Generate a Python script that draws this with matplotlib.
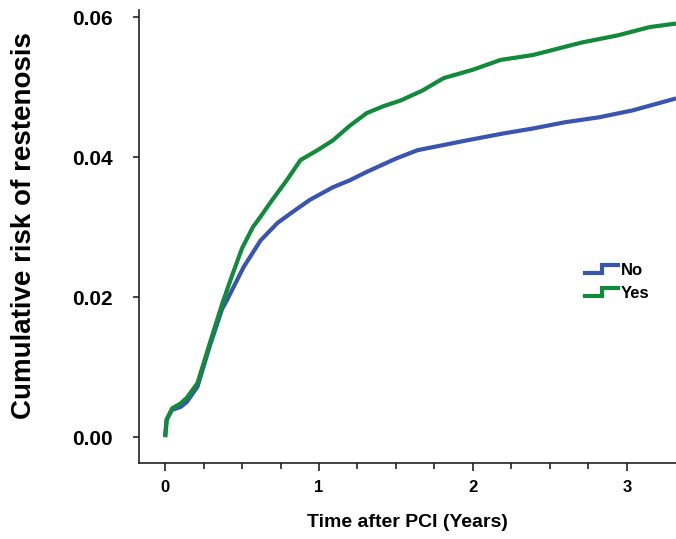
import matplotlib.pyplot as plt
from matplotlib.lines import Line2D
from matplotlib.legend_handler import HandlerBase
from matplotlib.ticker import FixedLocator

plt.rcParams['font.family'] = ['Liberation Sans', 'DejaVu Sans']

# Cumulative risk curves (years, risk)
anos_yes = [0, 0.01, 0.045, 0.1, 0.14, 0.21, 0.29, 0.37, 0.44, 0.5, 0.57, 0.62, 0.68, 0.79, 0.88,
            0.99, 1.09, 1.2, 1.31, 1.42, 1.53, 1.67, 1.81, 2.0, 2.18, 2.39, 2.55, 2.71, 2.94, 3.15, 3.32]
risco_yes = [0, 0.0025, 0.0041, 0.0048, 0.0056, 0.0077, 0.0134, 0.019, 0.0234, 0.027, 0.030, 0.0315,
             0.0334, 0.0367, 0.0396, 0.041, 0.0424, 0.0445, 0.0463, 0.0473, 0.0481, 0.0495, 0.0513,
             0.0525, 0.0539, 0.0546, 0.0555, 0.0564, 0.0574, 0.0586, 0.0591]

anos_no = [0, 0.01, 0.045, 0.1, 0.14, 0.21, 0.29, 0.37, 0.40, 0.51, 0.62, 0.73, 0.83, 0.94, 1.09,
           1.2, 1.31, 1.5, 1.64, 1.8, 1.96, 2.2, 2.39, 2.6, 2.82, 3.04, 3.32]
risco_no = [0, 0.0025, 0.0039, 0.0043, 0.005, 0.0072, 0.013, 0.0183, 0.0195, 0.0243, 0.0281, 0.0306,
            0.0322, 0.0339, 0.0357, 0.0367, 0.0379, 0.0398, 0.041, 0.0417, 0.0424, 0.0434, 0.0441,
            0.045, 0.0457, 0.0467, 0.0484]

grupos = ['No', 'Yes']
cores = ['#3a55b0', '#118a3c']
yticks = [0.00, 0.02, 0.04, 0.06]
xticks = [0, 1, 2, 3]


# handle da legenda em forma de degrau (como no Kaplan-Meier)
class HandlerDegrau(HandlerBase):
    def create_artists(self, legend, orig_handle, xdescent, ydescent, width, height, fontsize, trans):
        x0 = -xdescent
        y0 = -ydescent
        xs = [x0, x0 + width * 0.5, x0 + width * 0.5, x0 + width]
        ys = [y0 + height * 0.15, y0 + height * 0.15, y0 + height * 0.85, y0 + height * 0.85]
        linha = Line2D(xs, ys, color=orig_handle.get_color(), lw=orig_handle.get_linewidth(),
                       solid_joinstyle='miter', transform=trans)
        return [linha]


fig = plt.figure(figsize=(6.76, 5.39), dpi=100)
ax = fig.add_axes([0.2056, 0.141, 0.7944, 0.840])

l_no, = ax.plot(anos_no, risco_no, color=cores[0], lw=3.0, solid_capstyle='butt')
l_yes, = ax.plot(anos_yes, risco_yes, color=cores[1], lw=3.0, solid_capstyle='butt')

ax.set_xlim(-0.17, 3.32)
ax.set_ylim(-0.0037, 0.061)

ax.set_xticks(xticks)
ax.set_xticklabels([str(t) for t in xticks], fontsize=12, fontweight='bold')
ax.xaxis.set_minor_locator(FixedLocator([0.25, 0.5, 0.75, 1.25, 1.5, 1.75, 2.25, 2.5, 2.75]))
ax.set_yticks(yticks)
ax.set_yticklabels([f'{t:.2f}' for t in yticks], fontsize=15, fontweight='bold')

ax.tick_params(axis='x', which='major', length=6, width=1.2, color='#222222', pad=6)
ax.tick_params(axis='x', which='minor', length=4, width=1.2, color='#222222')
ax.tick_params(axis='y', which='major', length=4, width=1.2, color='#222222', pad=15)

ax.spines['top'].set_visible(False)
ax.spines['right'].set_visible(False)
for lado in ['left', 'bottom']:
    ax.spines[lado].set_linewidth(1.2)
    ax.spines[lado].set_color('#222222')

ax.set_xlabel('Time after PCI (Years)', fontsize=14, fontweight='bold', labelpad=14)
ax.set_ylabel('Cumulative risk of restenosis', fontsize=20, fontweight='bold')
ax.yaxis.set_label_coords(-0.19, 0.525)

leg = ax.legend([l_no, l_yes], grupos, handler_map={Line2D: HandlerDegrau()},
                loc='center left', bbox_to_anchor=(0.815, 0.40), frameon=False,
                handlelength=2.0, handletextpad=0.15, labelspacing=0.45, borderpad=0,
                prop={'weight': 'bold', 'size': 12})

fig.savefig('out.png', dpi=100)
